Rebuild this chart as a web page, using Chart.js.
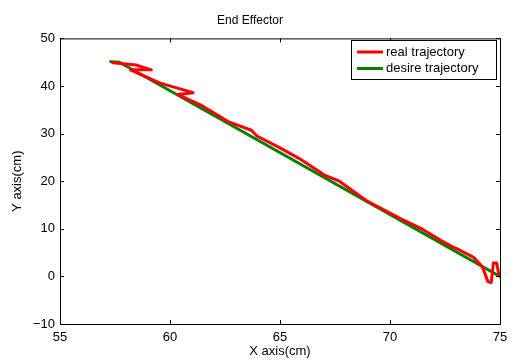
<!DOCTYPE html>
<html>
<head>
<meta charset="utf-8">
<script src="https://cdn.jsdelivr.net/npm/chart.js@4"></script>
<style>
  body { margin: 0; background: #fff; }
</style>
</head>
<body>
<canvas id="myChart" width="519" height="360"></canvas>
<script>
const xTicks = [55, 60, 65, 70, 75];
const yTicks = [-10, 0, 10, 20, 30, 40, 50];

const realX = [57.4, 58.45, 59.15, 58.2, 59.55, 61.05, 60.36, 61.36, 62.7, 63.7, 63.95, 65.0, 65.9, 67.05, 67.7, 68.9, 70.45, 71.4, 72.3, 72.8, 73.05, 73.8, 74.2, 74.45, 74.6, 74.7, 74.85, 74.95];
const realY = [44.9, 44.4, 43.4, 43.4, 40.6, 38.6, 38.2, 36.1, 32.4, 30.7, 29.5, 27.0, 24.7, 21.2, 20.0, 16.0, 12.2, 10.1, 7.6, 6.3, 5.8, 4.0, 2.0, -1.1, -1.3, 2.8, 2.8, 0.3];

const desireX = [57.3, 57.7, 75.0];
const desireY = [45.1, 45.0, 0.0];

const FONT = "'Liberation Sans', Arial, sans-serif";

function points(xs, ys) {
    return xs.map((x, i) => ({x: x, y: ys[i]}));
}

// matlab style box, inward ticks and legend
const matlabBox = {
    id: 'matlabBox',
    afterDatasetsDraw(chart) {
        const ctx = chart.ctx;
        const a = chart.chartArea;
        const xs = chart.scales.x, ys = chart.scales.y;
        ctx.save();
        ctx.strokeStyle = '#000';
        ctx.lineWidth = 1;
        ctx.strokeRect(a.left + 0.5, a.top + 0.5, a.right - a.left, a.bottom - a.top);
        ctx.beginPath();
        xTicks.forEach(v => {
            const px = Math.round(xs.getPixelForValue(v)) + 0.5;
            ctx.moveTo(px, a.bottom); ctx.lineTo(px, a.bottom - 4);
            ctx.moveTo(px, a.top); ctx.lineTo(px, a.top + 4);
        });
        yTicks.forEach(v => {
            const py = Math.round(ys.getPixelForValue(v)) + 0.5;
            ctx.moveTo(a.left, py); ctx.lineTo(a.left + 4, py);
            ctx.moveTo(a.right, py); ctx.lineTo(a.right - 4, py);
        });
        ctx.stroke();

        // legend
        const bx = 351, by = 40, bw = 145, bh = 39;
        ctx.fillStyle = '#fff';
        ctx.fillRect(bx, by, bw, bh);
        ctx.strokeRect(bx + 0.5, by + 0.5, bw, bh);
        ctx.font = '13px ' + FONT;
        ctx.textBaseline = 'middle';
        chart.data.datasets.forEach((ds, i) => {
            const y = by + 12 + i * 16.5;
            ctx.strokeStyle = ds.borderColor;
            ctx.lineWidth = 3;
            ctx.beginPath();
            ctx.moveTo(bx + 6, y); ctx.lineTo(bx + 32, y);
            ctx.stroke();
            ctx.fillStyle = '#000';
            ctx.fillText(ds.label, bx + 35, y);
        });
        ctx.restore();
    }
};

new Chart("myChart", {
    type: "scatter",
    data: {
        datasets: [{
            label: "real trajectory",
            data: points(realX, realY),
            borderColor: "#ff0000",
            backgroundColor: "#ff0000",
            borderWidth: 3,
            borderJoinStyle: 'round',
            borderCapStyle: 'round',
            showLine: true,
            pointRadius: 0,
            tension: 0
        }, {
            label: "desire trajectory",
            data: points(desireX, desireY),
            borderColor: "#008000",
            backgroundColor: "#008000",
            borderWidth: 3,
            borderJoinStyle: 'round',
            borderCapStyle: 'round',
            showLine: true,
            pointRadius: 0,
            tension: 0
        }]
    },
    options: {
        responsive: false,
        animation: false,
        layout: { padding: { left: 0, right: 19, top: 0, bottom: 0 } },
        plugins: {
            legend: { display: false },
            tooltip: { enabled: false },
            title: {
                display: true,
                text: "End Effector",
                color: "#000",
                font: { family: FONT, size: 12, weight: 'normal' },
                padding: { top: 13, bottom: 11 }
            }
        },
        scales: {
            x: {
                type: 'linear',
                min: 55,
                max: 75,
                afterFit: s => { s.height = 36; },
                afterBuildTicks: s => { s.ticks = xTicks.map(v => ({value: v})); },
                grid: { display: false, drawTicks: false },
                border: { display: false },
                ticks: { color: '#000', padding: 6, maxRotation: 0, font: { family: FONT, size: 13 } },
                title: { display: true, text: "X axis(cm)", color: '#000', padding: { top: 0, bottom: 1 }, font: { family: FONT, size: 13 } }
            },
            y: {
                type: 'linear',
                min: -10,
                max: 50,
                afterFit: s => { s.width = 60; },
                afterBuildTicks: s => { s.ticks = yTicks.map(v => ({value: v})); },
                grid: { display: false, drawTicks: false },
                border: { display: false },
                ticks: {
                    color: '#000', padding: 5, font: { family: FONT, size: 13 },
                    callback: v => v < 0 ? '\u2212' + Math.abs(v) : String(v)
                },
                title: { display: true, text: "Y axis(cm)", color: '#000', padding: { top: 10, bottom: 0 }, font: { family: FONT, size: 13 } }
            }
        }
    },
    plugins: [matlabBox]
});
</script>
</body>
</html>
